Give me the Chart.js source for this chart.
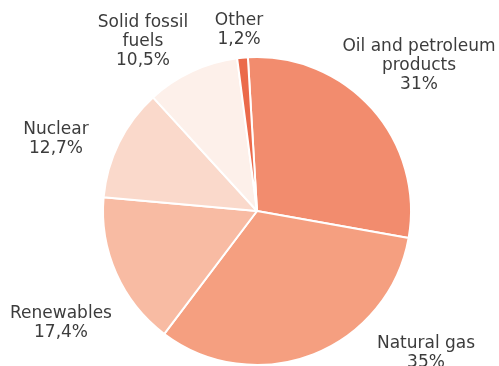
<!DOCTYPE html>
<html>
<head>
<meta charset="utf-8">
<style>
  html, body { margin: 0; padding: 0; background: #ffffff; }
  #wrap { width: 499px; height: 366px; position: relative; }
</style>
<script src="https://cdn.jsdelivr.net/npm/chart.js@4/dist/chart.umd.min.js"></script>
</head>
<body>
<div id="wrap"><canvas id="chart" width="499" height="366"></canvas></div>
<script>
// Energy mix shares (%)
const categories = [
  "Oil and petroleum products",
  "Natural gas",
  "Renewables",
  "Nuclear",
  "Solid fossil fuels",
  "Other"
];
const shares = [31, 35, 17.4, 12.7, 10.5, 1.2];
const shareLabels = ["31%", "35%", "17,4%", "12,7%", "10,5%", "1,2%"];
// Lines of each label's category name
const nameLines = [
  ["Oil and petroleum", "products"],
  ["Natural gas"],
  ["Renewables"],
  ["Nuclear"],
  ["Solid fossil", "fuels"],
  ["Other"]
];

const sliceColors = ["#f28c6e", "#f59f80", "#f8bba3", "#fad9cb", "#fdf0ea", "#eb6a4b"];

// Label anchors, relative to the pie centre (x of text centre, y of first line)
const labelAnchors = [
  [162, -164],
  [169, 133],
  [-196, 103],
  [-201, -81],
  [-114, -188],
  [-18, -190]
];

const calloutPlugin = {
  id: "callouts",
  afterDraw(chart) {
    const arc = chart.getDatasetMeta(0).data[0];
    if (!arc) return;
    const cx = arc.x, cy = arc.y;
    const ctx = chart.ctx;
    ctx.save();
    ctx.font = "17px 'DejaVu Sans'";
    ctx.fillStyle = "#3c3c3c";
    ctx.textAlign = "center";
    ctx.textBaseline = "middle";
    const lineH = 19;
    categories.forEach((c, i) => {
      const lines = nameLines[i].concat([shareLabels[i]]);
      const [dx, dy] = labelAnchors[i];
      lines.forEach((t, k) => {
        ctx.fillText(t, cx + dx, cy + dy + k * lineH);
      });
    });
    ctx.restore();
  }
};

new Chart(document.getElementById("chart"), {
  type: "pie",
  data: {
    labels: categories,
    datasets: [{
      data: shares,
      backgroundColor: sliceColors,
      borderColor: "#ffffff",
      borderWidth: 2
    }]
  },
  options: {
    responsive: false,
    animation: false,
    rotation: -3.4,
    layout: { padding: { top: 56, bottom: 0, left: 15, right: 0 } },
    plugins: {
      legend: { display: false },
      tooltip: { enabled: false }
    }
  },
  plugins: [calloutPlugin]
});
</script>
</body>
</html>
